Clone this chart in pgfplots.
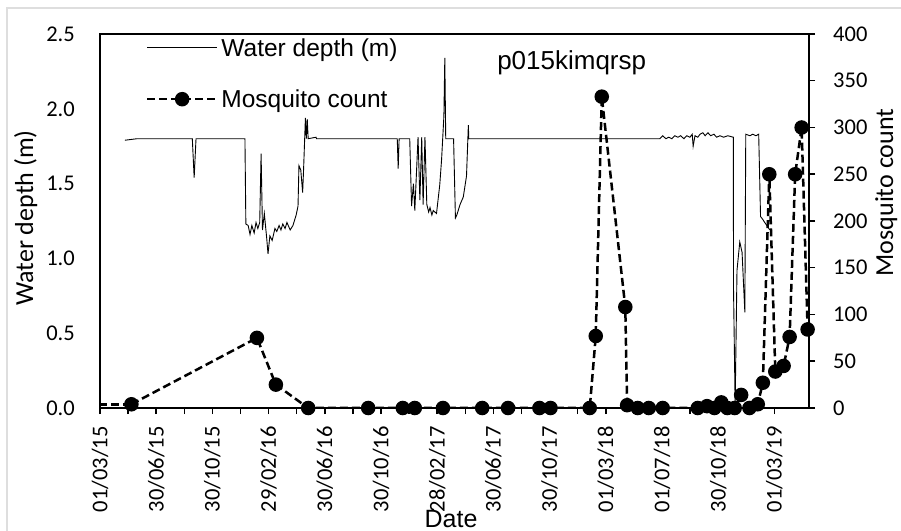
\documentclass[border=0pt]{standalone}
\usepackage{fontspec}
\setmainfont{Liberation Sans}
\newfontfamily\calibri{Carlito}
\usepackage{pgfplots}
\pgfplotsset{compat=1.18}
\usepackage{pgfplotstable}

% day = days since 01/03/15
\pgfplotstableread{
day depth
54 1.79
80 1.80
108 1.80
135 1.80
162 1.80
200 1.80
204 1.54
208 1.80
235 1.80
260 1.80
290 1.80
314 1.80
316 1.23
321 1.22
325 1.16
329 1.22
334 1.17
338 1.24
342 1.20
346 1.24
349 1.70
352 1.19
356 1.30
361 1.14
364 1.03
368 1.15
373 1.12
379 1.20
383 1.18
388 1.22
392 1.19
396 1.23
401 1.20
405 1.24
412 1.19
418 1.22
425 1.29
429 1.35
431 1.62
435 1.59
439 1.44
441 1.59
445 1.94
447 1.80
449 1.93
451 1.80
468 1.81
469 1.80
500 1.80
541 1.80
590 1.80
644 1.80
646 1.60
648 1.80
671 1.80
675 1.35
679 1.50
682 1.32
689 1.81
693 1.39
697 1.81
700 1.36
704 1.81
708 1.36
712 1.31
715 1.34
719 1.29
722 1.32
729 1.30
736 1.49
740 1.66
745 1.95
747 2.34
749 1.80
766 1.80
770 1.27
773 1.29
780 1.36
787 1.41
794 1.55
798 1.89
799 1.80
823 1.80
860 1.80
888 1.80
940 1.80
996 1.80
1050 1.80
1105 1.80
1160 1.80
1213 1.80
1219 1.82
1226 1.80
1232 1.81
1239 1.80
1245 1.82
1252 1.81
1258 1.82
1265 1.80
1271 1.82
1278 1.81
1283 1.83
1285 1.75
1289 1.82
1295 1.81
1300 1.83
1306 1.84
1311 1.82
1317 1.84
1323 1.82
1330 1.83
1336 1.81
1343 1.82
1351 1.81
1360 1.82
1372 1.81
1372.5 0.79
1376 0.02
1380 0.92
1386 1.11
1391 1.04
1397 0.64
1399 1.83
1408 1.82
1414 1.83
1421 1.82
1427 1.83
1431 1.28
1436 1.26
1440 1.24
1447 1.21
1451 1.19
}\waterdata

\pgfplotstableread{
day count
68 4
340 75
381 25
451 0
581 0
656 0
682 0
743 0
828 0
884 0
952 0
976 0
1061 0
1074 77
1087 333
1138 108
1142 3
1165 0
1189 0
1219 0
1295 0
1315 2
1331 0
1346 6
1359 0
1375 0
1389 14
1407 0
1425 4
1436 27
1450 250
1463 39
1481 45
1494 76
1506 250
1520 300
1533 84
}\mosqdata

\pgfplotstableread{
day count
-80 4
68 4
}\mosqlead

\begin{document}
\begin{tikzpicture}
\useasboundingbox (0,0) rectangle (901bp,531bp);
\draw[black!13, line width=1.5bp] (7bp,0) -- (7bp,523bp) -- (901bp,523bp);
\begin{axis}[
  at={(100bp,123bp)}, anchor=south west, scale only axis,
  width=709bp, height=374bp,
  xmin=0, xmax=1536, ymin=0, ymax=2.5,
  axis line style={line width=1.5bp},
  xtick={0,121.75,243.5,365.25,487,608.75,730.5,852.25,974,1095.75,1217.5,1339.25,1461},
  xticklabels={01/03/15,30/06/15,30/10/15,29/02/16,30/06/16,30/10/16,28/02/17,30/06/17,30/10/17,01/03/18,01/07/18,30/10/18,01/03/19},
  minor x tick num=1,
  xtick pos=left, ytick pos=left,
  tick align=outside,
  xtick style={line width=1.5bp, black},
  major tick length=6bp, minor tick length=6bp,
  ytick={0,0.5,1,1.5,2,2.5},
  yticklabels={0.0,0.5,1.0,1.5,2.0,2.5},
  ytick style={draw=none},
  xticklabel style={yshift=-12bp, rotate=90, anchor=east, inner sep=0pt, font=\calibri\fontsize{22.5bp}{26bp}\selectfont},
  yticklabel style={anchor=east, inner sep=0pt, xshift=-19bp, font=\calibri\fontsize{22.5bp}{26bp}\selectfont},
]
\addplot[black, line width=0.9bp, no marks] table[x=day, y=depth] {\waterdata};
\end{axis}
\begin{axis}[
  at={(100bp,123bp)}, anchor=south west, scale only axis,
  width=709bp, height=374bp,
  xmin=0, xmax=1536, ymin=0, ymax=400,
  axis x line=none, axis y line*=right,
  axis line style={line width=1.5bp},
  ytick={0,50,100,150,200,250,300,350,400},
  yticklabels={0,50,100,150,200,250,300,350,400},
  tick align=outside,
  ytick style={line width=1.5bp, black},
  major tick length=6bp,
  yticklabel style={anchor=west, inner sep=0pt, xshift=18bp, font=\calibri\fontsize{22.5bp}{26bp}\selectfont},
  legend image code/.code={\draw[mark repeat=2,mark phase=2,#1] plot coordinates {(0bp,0bp) (35bp,0bp) (70bp,0bp)};},
  legend cell align=left,
  legend style={draw=none, fill=none, at={(axis description cs:0.0645,0.997)}, anchor=north west,
    font=\fontsize{24.5bp}{28bp}\selectfont, row sep=26bp, inner sep=0pt, nodes={inner sep=3bp}},
]
\addlegendimage{black, line width=0.9bp, no marks}
\addlegendentry{Water depth (m)}
\addplot[black, line width=2.5bp, dash pattern=on 8bp off 4bp, mark=*, mark size=6bp, mark options={solid}] table[x=day, y=count] {\mosqdata};
\addlegendentry{Mosquito count}
\addplot[black, line width=2.5bp, dash pattern=on 8bp off 4bp, no marks, forget plot] table[x=day, y=count] {\mosqlead};
\end{axis}
\node[anchor=base, font=\fontsize{26bp}{30bp}\selectfont] at (571.7bp,461bp) {p015kimqrsp};
\node[anchor=base, font=\fontsize{25bp}{30bp}\selectfont] at (451bp,4bp) {Date};
\node[rotate=90, anchor=base, font=\calibri\fontsize{26bp}{30bp}\selectfont] at (33bp,313bp) {Water depth (m)};
\node[rotate=90, anchor=base, font=\calibri\fontsize{26bp}{30bp}\selectfont] at (893bp,338.5bp) {Mosquito count};
\end{tikzpicture}
\end{document}
